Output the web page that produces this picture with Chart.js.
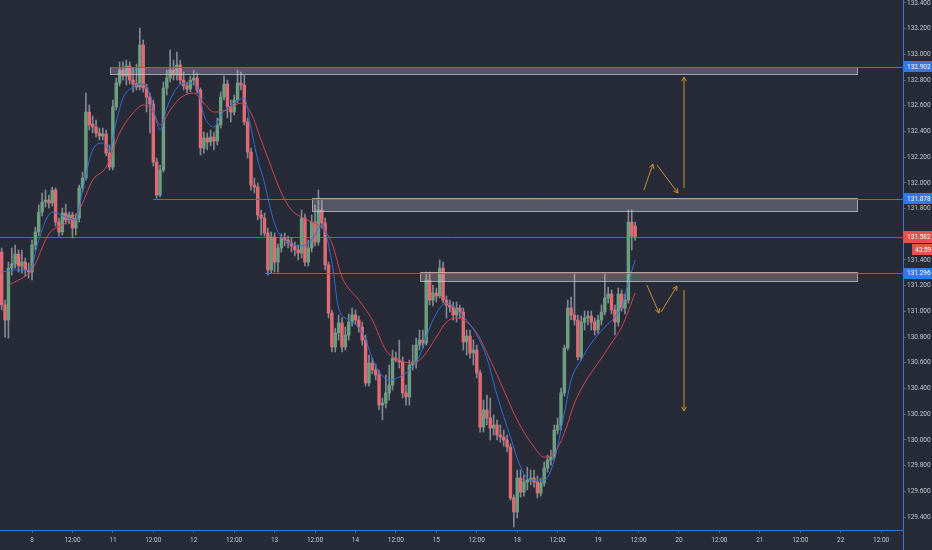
<!DOCTYPE html>
<html>
<head>
<meta charset="utf-8">
<script src="https://cdn.jsdelivr.net/npm/chart.js@4.4.1/dist/chart.umd.min.js"></script>
<style>
  html, body { margin: 0; padding: 0; background: #272a37; }
  #wrap { width: 932px; height: 550px; position: relative; }
</style>
</head>
<body>
<div id="wrap"><canvas id="chart"></canvas></div>
<script>
// hourly USDJPY-style candles
const opens = [
  131.462,131.050,130.933,131.337,131.369,131.446,131.353,131.384,131.322,131.306,
  131.516,131.618,131.773,131.851,131.867,131.843,131.944,131.695,131.618,131.765,
  131.711,131.750,131.649,131.726,131.960,132.038,132.551,132.458,132.435,132.388,
  132.365,132.380,132.232,132.123,132.590,132.777,132.878,132.832,132.909,132.800,
  132.769,132.746,133.073,132.738,132.668,132.614,132.162,131.906,132.100,132.738,
  132.816,132.878,132.839,132.917,132.800,132.754,132.730,132.800,132.816,132.723,
  132.271,132.349,132.318,132.357,132.326,132.450,132.668,132.769,132.590,132.551,
  132.645,132.777,132.761,132.474,132.240,131.983,131.968,131.750,131.726,131.610,
  131.322,131.579,131.384,131.493,131.571,131.555,131.532,131.509,131.478,131.454,
  131.726,131.384,131.493,131.695,131.540,131.789,131.688,131.361,130.987,130.723,
  130.832,130.910,130.723,130.816,130.917,130.972,130.933,130.878,130.777,130.443,
  130.598,130.544,130.505,130.271,130.287,130.365,130.427,130.637,130.622,130.606,
  130.365,130.334,130.583,130.606,130.738,130.777,130.754,131.244,131.088,131.143,
  131.120,131.337,131.088,131.050,131.034,130.972,131.026,130.995,130.762,130.808,
  130.676,130.699,130.521,130.100,130.233,130.170,130.092,130.116,130.038,130.022,
  129.999,129.944,129.548,129.439,129.703,129.594,129.672,129.688,129.703,129.672,
  129.586,129.664,129.781,129.843,129.867,130.077,130.116,130.365,130.715,131.026,
  130.972,130.933,130.645,130.917,130.949,130.964,130.917,130.855,130.933,130.995,
  131.104,131.135,131.011,130.917,131.135,131.026,131.088,131.695,131.664
];
const highs = [
  131.493,131.088,131.384,131.493,131.516,131.478,131.478,131.415,131.376,131.555,
  131.656,131.828,131.921,131.944,131.906,131.968,131.960,131.726,131.804,131.835,
  131.773,131.773,131.758,131.983,132.084,132.699,132.606,132.520,132.489,132.427,
  132.427,132.411,132.295,132.645,132.816,132.941,132.941,132.956,132.941,132.894,
  132.925,133.205,133.112,132.769,132.699,132.645,132.193,132.139,132.785,132.878,
  133.034,132.956,133.018,132.956,132.863,132.785,132.832,132.878,132.855,132.738,
  132.396,132.388,132.411,132.396,132.505,132.707,132.832,132.800,132.645,132.684,
  132.878,132.863,132.839,132.505,132.271,132.038,131.999,131.789,131.765,131.649,
  131.618,131.610,131.524,131.602,131.610,131.586,131.571,131.540,131.516,131.789,
  131.758,131.555,131.750,131.828,131.944,131.867,131.726,131.384,131.011,130.870,
  130.972,130.949,130.878,130.980,131.026,131.011,130.964,130.917,130.816,130.660,
  130.637,130.590,130.544,130.326,130.505,130.583,130.699,130.684,130.777,130.645,
  130.427,130.622,130.738,130.792,130.855,130.855,131.306,131.306,131.205,131.182,
  131.400,131.384,131.120,131.088,131.073,131.073,131.050,131.026,130.855,130.855,
  130.777,130.738,130.544,130.310,130.349,130.326,130.194,130.155,130.116,130.077,
  130.038,129.968,129.571,129.766,129.766,129.727,129.789,129.766,129.766,129.719,
  129.703,129.828,129.882,129.921,130.116,130.170,130.404,130.738,131.088,131.112,
  131.298,130.972,130.964,131.003,131.003,131.003,130.949,130.972,131.050,131.298,
  131.189,131.166,131.050,131.182,131.166,131.135,131.789,131.789,131.695
];
const lows = [
  131.011,130.800,130.792,131.283,131.337,131.306,131.298,131.275,131.259,131.244,
  131.478,131.586,131.742,131.812,131.804,131.820,131.664,131.586,131.594,131.680,
  131.680,131.571,131.594,131.695,131.929,132.022,132.411,132.388,132.357,132.334,
  132.334,132.209,132.100,132.100,132.567,132.754,132.800,132.761,132.769,132.707,
  132.723,132.723,132.707,132.551,132.388,132.131,131.882,131.890,132.084,132.684,
  132.785,132.800,132.800,132.769,132.723,132.699,132.707,132.761,132.699,132.217,
  132.232,132.256,132.287,132.256,132.295,132.427,132.645,132.505,132.474,132.528,
  132.621,132.723,132.450,132.193,131.944,131.921,131.711,131.594,131.586,131.283,
  131.298,131.306,131.306,131.462,131.509,131.493,131.462,131.431,131.400,131.415,
  131.353,131.353,131.462,131.509,131.516,131.649,131.322,130.949,130.684,130.684,
  130.777,130.684,130.699,130.777,130.886,130.902,130.839,130.738,130.419,130.419,
  130.513,130.466,130.233,130.155,130.248,130.310,130.388,130.606,130.559,130.326,
  130.271,130.271,130.544,130.559,130.699,130.715,130.738,131.050,131.042,131.073,
  131.104,131.065,130.949,130.995,130.933,130.917,130.949,130.699,130.660,130.637,
  130.583,130.482,130.061,130.061,130.116,129.999,130.038,129.999,129.983,129.952,
  129.906,129.532,129.322,129.392,129.555,129.563,129.610,129.649,129.633,129.548,
  129.563,129.641,129.750,129.804,129.843,130.046,130.077,130.341,130.699,130.933,
  130.894,130.622,130.622,130.855,130.894,130.855,130.816,130.824,130.894,130.972,
  131.065,130.980,130.816,130.886,131.003,130.980,131.065,131.478,131.555
];
const closes = [
  131.050,130.933,131.337,131.369,131.446,131.353,131.384,131.322,131.306,131.516,
  131.618,131.773,131.851,131.867,131.843,131.944,131.695,131.618,131.765,131.711,
  131.750,131.649,131.726,131.960,132.038,132.551,132.450,132.435,132.388,132.365,
  132.380,132.232,132.123,132.590,132.777,132.878,132.832,132.909,132.800,132.769,
  132.746,133.073,132.738,132.668,132.614,132.162,131.906,132.100,132.738,132.816,
  132.878,132.839,132.917,132.800,132.754,132.730,132.800,132.816,132.723,132.271,
  132.349,132.318,132.357,132.326,132.450,132.668,132.769,132.590,132.551,132.645,
  132.777,132.761,132.474,132.240,131.983,131.968,131.750,131.726,131.610,131.322,
  131.579,131.384,131.493,131.571,131.555,131.532,131.509,131.478,131.454,131.726,
  131.384,131.493,131.695,131.540,131.789,131.688,131.361,130.987,130.723,130.832,
  130.910,130.723,130.816,130.917,130.972,130.933,130.878,130.777,130.443,130.598,
  130.544,130.505,130.271,130.287,130.365,130.427,130.637,130.622,130.606,130.365,
  130.334,130.583,130.606,130.738,130.777,130.754,131.244,131.088,131.143,131.120,
  131.337,131.088,131.050,131.034,130.972,131.026,130.995,130.762,130.808,130.676,
  130.699,130.521,130.100,130.233,130.170,130.092,130.116,130.038,130.022,129.999,
  129.944,129.548,129.439,129.703,129.594,129.672,129.688,129.703,129.672,129.586,
  129.664,129.781,129.843,129.867,130.077,130.116,130.365,130.715,131.026,130.972,
  130.933,130.645,130.917,130.949,130.964,130.917,130.855,130.933,130.995,131.104,
  131.135,131.011,130.917,131.135,131.026,131.088,131.695,131.586,131.582
];

// moving averages as [candle index, price]
const fastMa = [
  [0,131.306],[4,131.322],[8,131.322],[9,131.353],[11,131.555],[15,131.773],[19,131.734],
  [22,131.711],[24,131.944],[27,132.256],[30,132.310],[32,132.256],[34,132.474],[36,132.660],
  [39,132.746],[42,132.769],[44,132.684],[46,132.474],[47,132.411],[49,132.583],[52,132.738],
  [55,132.777],[58,132.746],[60,132.528],[63,132.435],[65,132.528],[69,132.621],[72,132.660],
  [74,132.427],[76,132.178],[78,132.000],[80,131.773],[82,131.618],[85,131.540],[89,131.509],
  [92,131.555],[95,131.672],[98,131.384],[100,131.026],[103,130.933],[107,130.839],[111,130.575],
  [115,130.466],[118,130.489],[121,130.544],[124,130.653],[128,130.933],[132,131.065],[135,131.011],
  [138,130.933],[141,130.816],[144,130.637],[147,130.349],[151,130.022],[154,129.789],[157,129.688],
  [161,129.688],[164,129.843],[167,130.209],[169,130.466],[172,130.622],[175,130.754],[179,130.878],
  [182,130.956],[184,131.034],[186,131.228],[188,131.400]
];
const slowMa = [
  [2,131.205],[5,131.244],[9,131.322],[14,131.602],[19,131.688],[23,131.789],[27,132.022],
  [31,132.123],[35,132.388],[39,132.544],[42,132.606],[45,132.551],[47,132.450],[50,132.567],
  [53,132.660],[57,132.699],[60,132.621],[63,132.551],[67,132.567],[71,132.621],[74,132.544],
  [77,132.334],[80,132.123],[83,131.921],[86,131.789],[89,131.734],[92,131.695],[95,131.649],
  [98,131.532],[101,131.267],[106,131.088],[110,130.933],[114,130.699],[118,130.622],[122,130.598],
  [125,130.645],[129,130.800],[132,130.917],[135,130.949],[138,130.917],[141,130.832],[145,130.622],
  [149,130.388],[153,130.155],[158,129.944],[161,129.867],[164,129.898],[167,130.053],[170,130.287],
  [173,130.443],[177,130.598],[181,130.754],[184,130.878],[188,131.143]
];

// axes
const xTickIdx = [9,21,33,45,57,69,81,93,105,117,129,141,153,165,177,189,201,213,225,237,249,261];
const xTickText = ['8','12:00','11','12:00','12','12:00','13','12:00','14','12:00','15','12:00',
                   '18','12:00','19','12:00','20','12:00','21','12:00','22','12:00'];
const yTicks = [129.4,129.6,129.8,130.0,130.2,130.4,130.6,130.8,131.0,131.2,131.4,
                131.6,131.8,132.0,132.2,132.4,132.6,132.8,133.0,133.2,133.4];

// drawings
const levelPrice = [132.902, 131.878, 131.296];
const levelStart = [32.2, 45, 78.2];
const zoneStart = [32.2, 92, 124.2];
const zoneEnd = [253.9, 253.9, 253.9];
const zoneTop = [132.905, 131.885, 131.305];
const zoneBottom = [132.845, 131.785, 131.233];
const arrowFrom = [[190.6,131.944],[194.5,132.139],[202.5,131.960],[191.5,131.205],[195.7,130.995],[202.5,131.166]];
const arrowTo   = [[193.3,132.147],[200.7,131.921],[202.5,132.824],[195.1,130.987],[200.4,131.197],[202.5,130.225]];
const lastPrice = closes[closes.length - 1];
const countdown = '43:59';

const UP = '#6c9f80', DOWN = '#df6b74', WICK = '#848893';
const AXIS_BLUE = '#3b74d4', LABEL_BLUE = '#2f78ee', LABEL_RED = '#e8504f';
const TXT = '#c3c6ce';
const FONT = 'Roboto';

const bodyData = opens.map((o, i) => ({ x: i, y: [o, closes[i]] }));
const wickData = lows.map((l, i) => ({ x: i, y: [l, highs[i]] }));
const bodyColors = opens.map((o, i) => closes[i] >= o ? UP : DOWN);

function drawArrow(ctx, x1, y1, x2, y2) {
  const ang = Math.atan2(y2 - y1, x2 - x1);
  const len = 5;
  ctx.beginPath();
  ctx.moveTo(x1, y1);
  ctx.lineTo(x2, y2);
  ctx.moveTo(x2, y2);
  ctx.lineTo(x2 - len * Math.cos(ang - 0.5), y2 - len * Math.sin(ang - 0.5));
  ctx.moveTo(x2, y2);
  ctx.lineTo(x2 - len * Math.cos(ang + 0.5), y2 - len * Math.sin(ang + 0.5));
  ctx.stroke();
}

function priceBox(ctx, left, width, yc, h, bg, text) {
  ctx.fillStyle = bg;
  ctx.fillRect(left, Math.round(yc - h / 2), width, h);
  ctx.fillStyle = '#ffffff';
  ctx.textBaseline = 'middle';
  ctx.textAlign = 'left';
  ctx.fillText(text, left + 4, yc + 0.5);
}

const overlay = {
  id: 'overlay',
  beforeDatasetsDraw(chart) {
    const { ctx, chartArea: a, scales: { y } } = chart;
    ctx.save();
    ctx.strokeStyle = '#b8474f';
    ctx.lineWidth = 1;
    const py = Math.round(y.getPixelForValue(lastPrice)) + 0.5;
    ctx.beginPath();
    ctx.moveTo(a.left, py);
    ctx.lineTo(a.right, py);
    ctx.stroke();
    ctx.restore();
  },
  afterDatasetsDraw(chart) {
    const { ctx, chartArea: a, scales: { x, y } } = chart;
    ctx.save();
    // zones
    zoneStart.forEach((s, k) => {
      const x1 = Math.round(x.getPixelForValue(s)) + 0.5;
      const x2 = Math.round(x.getPixelForValue(zoneEnd[k])) + 0.5;
      const y1 = Math.round(y.getPixelForValue(zoneTop[k])) + 0.5;
      const y2 = Math.round(y.getPixelForValue(zoneBottom[k])) + 0.5;
      ctx.fillStyle = 'rgba(185,188,196,0.32)';
      ctx.fillRect(x1, y1, x2 - x1, y2 - y1);
      ctx.strokeStyle = 'rgba(205,207,213,0.7)';
      ctx.lineWidth = 1;
      ctx.strokeRect(x1, y1, x2 - x1, y2 - y1);
    });
    // horizontal levels
    ctx.strokeStyle = AXIS_BLUE;
    ctx.lineWidth = 1;
    levelPrice.forEach((p, k) => {
      const py = Math.round(y.getPixelForValue(p)) + 0.5;
      ctx.beginPath();
      ctx.moveTo(x.getPixelForValue(levelStart[k]), py);
      ctx.lineTo(a.right, py);
      ctx.stroke();
    });
    // arrows
    ctx.strokeStyle = '#c99233';
    ctx.lineWidth = 1;
    arrowFrom.forEach((f, k) => {
      const t = arrowTo[k];
      drawArrow(ctx, x.getPixelForValue(f[0]), y.getPixelForValue(f[1]),
                x.getPixelForValue(t[0]), y.getPixelForValue(t[1]));
    });
    ctx.restore();
  },
  afterDraw(chart) {
    const { ctx, chartArea: a, scales: { y }, width, height } = chart;
    ctx.save();
    ctx.strokeStyle = AXIS_BLUE;
    ctx.lineWidth = 1;
    ctx.beginPath();
    ctx.moveTo(a.right + 0.5, a.bottom);
    ctx.lineTo(a.right + 0.5, height);
    ctx.stroke();
    ctx.font = '6.5px ' + FONT;
    const w = width - a.right;
    levelPrice.forEach(p => {
      priceBox(ctx, a.right, w, y.getPixelForValue(p), 11, LABEL_BLUE, p.toFixed(3));
    });
    const ly = y.getPixelForValue(lastPrice);
    priceBox(ctx, a.right, w, ly, 12, LABEL_RED, lastPrice.toFixed(3));
    ctx.fillStyle = LABEL_RED;
    ctx.fillRect(a.right + 9, Math.round(ly + 7), w - 9, 11);
    ctx.fillStyle = '#ffffff';
    ctx.textBaseline = 'middle';
    ctx.fillText(countdown, a.right + 12, Math.round(ly + 7) + 6);
    ctx.restore();
  }
};

Chart.defaults.font.family = FONT;
Chart.defaults.color = TXT;

new Chart(document.getElementById('chart'), {
  type: 'bar',
  data: {
    datasets: [
      {
        type: 'line', data: fastMa.map(d => ({ x: d[0], y: d[1] })),
        borderColor: '#2f6fd6', borderWidth: 1, pointRadius: 0,
        cubicInterpolationMode: 'monotone', order: 1
      },
      {
        type: 'line', data: slowMa.map(d => ({ x: d[0], y: d[1] })),
        borderColor: '#cf4655', borderWidth: 1, pointRadius: 0,
        cubicInterpolationMode: 'monotone', order: 1
      },
      {
        data: bodyData, backgroundColor: bodyColors, barThickness: 2.8,
        minBarLength: 1, grouped: false, order: 2
      },
      {
        data: wickData, backgroundColor: WICK, barThickness: 1,
        grouped: false, order: 3
      }
    ]
  },
  options: {
    responsive: true,
    maintainAspectRatio: false,
    animation: false,
    layout: { padding: 0 },
    plugins: { legend: { display: false }, tooltip: { enabled: false } },
    scales: {
      x: {
        type: 'linear', min: -0.5, max: 267.5, offset: false,
        grid: { offset: false, drawOnChartArea: false, drawTicks: true, tickLength: 3, color: '#5f6372' },
        border: { color: AXIS_BLUE, width: 1 },
        ticks: {
          autoSkip: false, maxRotation: 0, padding: 3, color: TXT,
          font: { size: 6.5 },
          callback: v => { const k = xTickIdx.indexOf(v); return k < 0 ? '' : xTickText[k]; }
        },
        afterBuildTicks: s => { s.ticks = xTickIdx.map(v => ({ value: v })); },
        afterFit: s => { s.height = 20; s.paddingLeft = 0; s.paddingRight = 0; }
      },
      y: {
        position: 'right', min: 129.299, max: 133.423,
        grid: { drawOnChartArea: false, drawTicks: true, tickLength: 3, color: '#5f6372' },
        border: { color: AXIS_BLUE, width: 1 },
        ticks: {
          padding: 1, color: TXT, font: { size: 6.5 },
          callback: v => Number(v).toFixed(3)
        },
        afterBuildTicks: s => { s.ticks = yTicks.map(v => ({ value: v })); },
        afterFit: s => { s.width = 29; s.paddingTop = 0; s.paddingBottom = 0; }
      }
    }
  },
  plugins: [overlay]
});
</script>
</body>
</html>
